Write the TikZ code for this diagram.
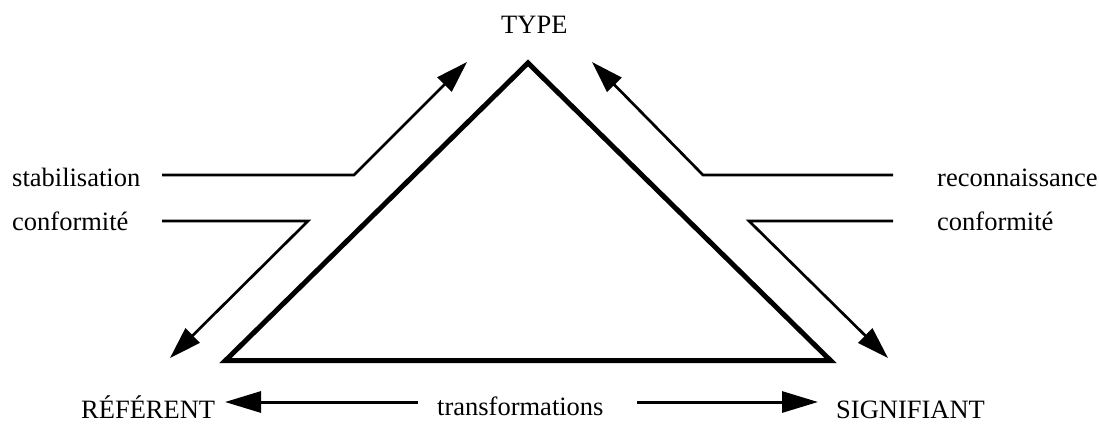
\documentclass[tikz,border=0pt]{standalone}
\usepackage{fontspec}
\setmainfont{Liberation Serif}
\usetikzlibrary{arrows.meta}
\begin{document}
\begin{tikzpicture}[x=1pt,y=-1pt,
  lbl/.style={anchor=base west, inner sep=0pt, font=\fontsize{26.5}{31}\selectfont},
  tri/.style={line width=5pt, line join=miter},
  conn/.style={line width=2.7pt, line join=miter, -{Triangle[length=32pt,width=20pt]}},
  hconn/.style={line width=3pt, -{Triangle[length=36pt,width=21pt]}}]
\useasboundingbox (0,0) rectangle (1099,423);
% labels
\node[lbl] (type) at (501,33) {TYPE};
\node[lbl] (stab) at (12,186) {stabilisation};
\node[lbl] (confl) at (12,230) {conformité};
\node[lbl] (reco) at (937,186) {reconnaissance};
\node[lbl] (confr) at (937,230) {conformité};
\node[lbl] (ref) at (81,418) {RÉFÉRENT};
\node[lbl] (trans) at (437,415) {transformations};
\node[lbl] (sig) at (836,418) {SIGNIFIANT};
% triangle
\coordinate (apex) at (528,63);
\coordinate (bl) at (225.5,360.5);
\coordinate (br) at (830.5,360.5);
\draw[tri] (apex) -- (bl) -- (br) -- cycle;
% side connectors
\coordinate (lu0) at (162,175); \coordinate (lu1) at (354,175); \coordinate (lu2) at (467,62);
\coordinate (ll0) at (162,221); \coordinate (ll1) at (308,221); \coordinate (ll2) at (170,358);
\coordinate (ru0) at (893,175); \coordinate (ru1) at (703,175); \coordinate (ru2) at (592,62);
\coordinate (rl0) at (893,221); \coordinate (rl1) at (749,221); \coordinate (rl2) at (888,358);
\draw[conn] (lu0) -- (lu1) -- (lu2);
\draw[conn] (ll0) -- (ll1) -- (ll2);
\draw[conn] (ru0) -- (ru1) -- (ru2);
\draw[conn] (rl0) -- (rl1) -- (rl2);
% bottom connectors
\coordinate (b0) at (418,402); \coordinate (b1) at (225,402);
\coordinate (b2) at (637,402); \coordinate (b3) at (818,402);
\draw[hconn] (b0) -- (b1);
\draw[hconn] (b2) -- (b3);
\end{tikzpicture}
\end{document}
